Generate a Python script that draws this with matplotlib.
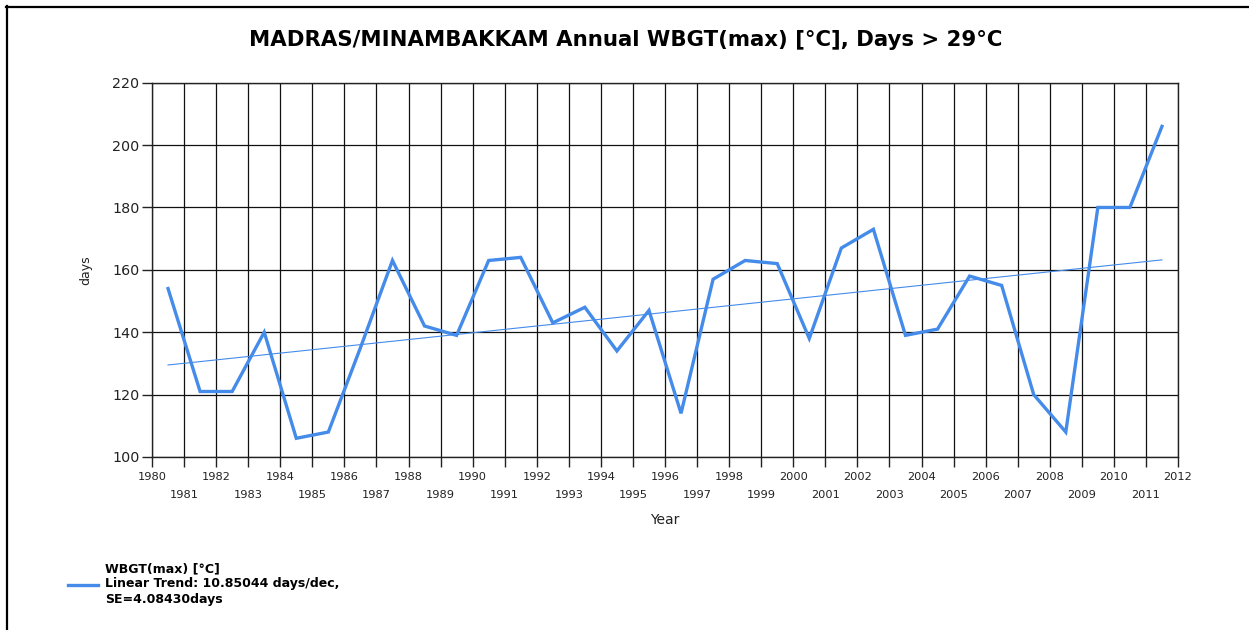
import matplotlib
matplotlib.use("Agg")
from matplotlib import pyplot as plt
from matplotlib.lines import Line2D

plt.rcParams['font.family'] = ['DejaVu Sans']

# data
years = list(range(1980, 2012))
days = [154, 121, 121, 140, 106, 108, 135, 163, 142, 139,
        163, 164, 143, 148, 134, 147, 114, 157, 163, 162,
        138, 167, 173, 139, 141, 158, 155, 120, 108, 180,
        180, 206]
trend_years = [1980, 2011]
trend_days = [129.5, 163.2]

title = "MADRAS/MINAMBAKKAM Annual WBGT(max) [\u00b0C], Days > 29\u00b0C"
legend_label = "WBGT(max) [\u00b0C]\nLinear Trend: 10.85044 days/dec,\nSE=4.08430days"

blue = "#448BEA"

fig = plt.figure(figsize=(12.49, 6.3), dpi=100)
ax = fig.add_axes([152/1249, 1-457/630, (1178-152)/1249, (457-82.7)/630])

# values plotted mid-year
xs = [y + 0.5 for y in years]
line, = ax.plot(xs, days, color=blue, lw=2.4, solid_joinstyle='miter', zorder=3)
ax.plot([y + 0.5 for y in trend_years], trend_days, color=blue, lw=0.8, zorder=3)

ax.set_xlim(1980, 2012)
ax.set_ylim(100, 220)
ax.set_yticks(range(100, 221, 20))
ax.set_xticks(range(1980, 2013, 2))
ax.set_xticks(range(1981, 2012, 2), minor=True)
ax.set_xticklabels([str(y) for y in range(1980, 2013, 2)])
ax.set_xticklabels([str(y) for y in range(1981, 2012, 2)], minor=True)

ax.tick_params(axis='x', which='both', direction='out', length=7, width=1,
               color='#222222', labelsize=8.2, labelcolor='#222222')
ax.tick_params(axis='x', which='major', pad=3.5)
ax.tick_params(axis='x', which='minor', pad=17)
ax.tick_params(axis='y', direction='out', length=7, width=1,
               color='#222222', labelsize=10.3, labelcolor='#222222', pad=2)

ax.grid(True, which='both', color='#111111', lw=0.9)
ax.set_axisbelow(True)
for s in ax.spines.values():
    s.set_color('#222222')
    s.set_linewidth(1)

ax.set_xlabel("Year", fontsize=10, color='#222222', labelpad=9)
ax.set_ylabel("days", fontsize=9, color='#222222', labelpad=14)

fig.text(626/1249, 1-40/630, title, ha='center', va='center',
         fontsize=15.3, fontweight='bold')

fig.legend([line], [legend_label], loc='center left',
           bbox_to_anchor=(62/1249, 1-584/630), frameon=False,
           prop={'size': 9, 'weight': 'bold'}, handlelength=2.4,
           handletextpad=0.55, borderpad=0, labelspacing=0)
for t in fig.legends[0].get_texts():
    t.set_linespacing(1.25)

# frame lines at top and left edge of the picture
fig.add_artist(Line2D([6/1249, 1], [1-6.5/630, 1-6.5/630], color='black', lw=1.6,
                      transform=fig.transFigure))
fig.add_artist(Line2D([6.5/1249, 6.5/1249], [0, 1-6/630], color='black', lw=1.6,
                      transform=fig.transFigure))

fig.savefig("out.png", dpi=100)
